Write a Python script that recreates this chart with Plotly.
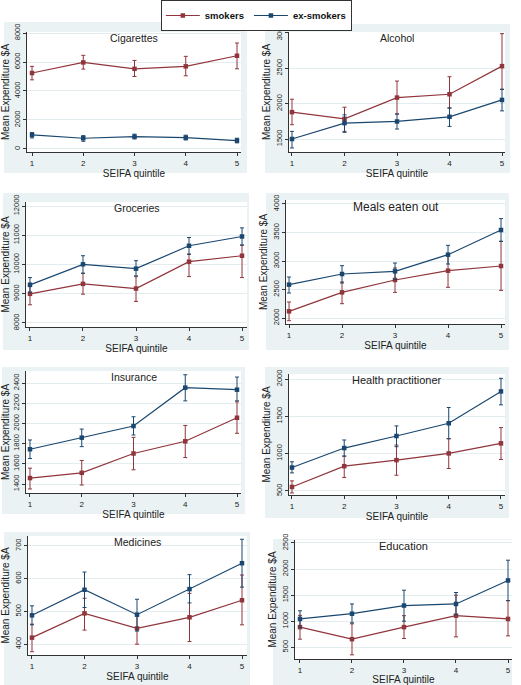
import plotly.graph_objects as go

quintiles = [1, 2, 3, 4, 5]
panel_titles = ["Cigarettes", "Alcohol", "Groceries", "Meals eaten out",
                "Insurance", "Health practitioner", "Medicines", "Education"]

# mean, lower CI, upper CI  (smokers / ex-smokers)
cig_smk = [5240, 5970, 5530, 5700, 6430]
cig_smk_lo = [4770, 5510, 5000, 5050, 5530]
cig_smk_hi = [5700, 6460, 6110, 6390, 7310]
cig_ex = [970, 740, 850, 780, 580]
cig_ex_lo = [760, 530, 690, 620, 420]
cig_ex_hi = [1130, 920, 1020, 950, 740]

alc_smk = [1880, 1786, 2086, 2133, 2531]
alc_smk_lo = [1702, 1608, 1856, 1936, 2203]
alc_smk_hi = [2063, 1950, 2320, 2381, 2991]
alc_ex = [1500, 1725, 1748, 1814, 2053]
alc_ex_lo = [1373, 1594, 1641, 1678, 1898]
alc_ex_hi = [1608, 1842, 1852, 1941, 2203]

gro_smk = [8997, 9337, 9178, 10096, 10300]
gro_smk_lo = [8623, 8986, 8737, 9586, 9552]
gro_smk_hi = [9360, 9700, 9586, 10357, 10663]
gro_ex = [9303, 10006, 9858, 10640, 10958]
gro_ex_lo = [9054, 9700, 9609, 10346, 10663]
gro_ex_hi = [9552, 10300, 10130, 10924, 11252]

mea_smk = [2117, 2450, 2667, 2830, 2912]
mea_smk_lo = [1953, 2251, 2450, 2538, 2485]
mea_smk_hi = [2281, 2632, 2877, 3111, 3345]
mea_ex = [2585, 2772, 2819, 3111, 3544]
mea_ex_lo = [2439, 2614, 2673, 2947, 3345]
mea_ex_hi = [2719, 2918, 2965, 3275, 3743]

ins_smk = [1459, 1511, 1702, 1823, 2056]
ins_smk_lo = [1351, 1390, 1541, 1662, 1902]
ins_smk_hi = [1557, 1633, 1862, 1980, 2213]
ins_ex = [1744, 1859, 1974, 2354, 2334]
ins_ex_lo = [1652, 1770, 1885, 2223, 2223]
ins_ex_hi = [1836, 1944, 2066, 2482, 2459]

hea_smk = [554, 832, 913, 1003, 1138]
hea_smk_lo = [473, 680, 711, 801, 922]
hea_smk_hi = [635, 967, 1115, 1200, 1349]
hea_ex = [814, 1075, 1236, 1407, 1834]
hea_ex_lo = [742, 967, 1093, 1200, 1654]
hea_ex_hi = [891, 1183, 1371, 1618, 2009]

med_smk = [420, 494, 448, 482, 534]
med_smk_lo = [377, 443, 400, 408, 459]
med_smk_hi = [461, 540, 494, 555, 611]
med_ex = [488, 566, 490, 568, 647]
med_ex_lo = [459, 512, 440, 526, 574]
med_ex_hi = [517, 620, 537, 612, 720]

edu_smk = [887, 656, 887, 1106, 1044]
edu_smk_lo = [656, 356, 669, 700, 719]
edu_smk_hi = [1112, 950, 1106, 1500, 1394]
edu_ex = [1044, 1144, 1300, 1331, 1781]
edu_ex_lo = [875, 969, 1000, 1125, 1394]
edu_ex_hi = [1200, 1331, 1594, 1550, 2169]

smk_sets = [(cig_smk, cig_smk_lo, cig_smk_hi), (alc_smk, alc_smk_lo, alc_smk_hi),
            (gro_smk, gro_smk_lo, gro_smk_hi), (mea_smk, mea_smk_lo, mea_smk_hi),
            (ins_smk, ins_smk_lo, ins_smk_hi), (hea_smk, hea_smk_lo, hea_smk_hi),
            (med_smk, med_smk_lo, med_smk_hi), (edu_smk, edu_smk_lo, edu_smk_hi)]
ex_sets = [(cig_ex, cig_ex_lo, cig_ex_hi), (alc_ex, alc_ex_lo, alc_ex_hi),
           (gro_ex, gro_ex_lo, gro_ex_hi), (mea_ex, mea_ex_lo, mea_ex_hi),
           (ins_ex, ins_ex_lo, ins_ex_hi), (hea_ex, hea_ex_lo, hea_ex_hi),
           (med_ex, med_ex_lo, med_ex_hi), (edu_ex, edu_ex_lo, edu_ex_hi)]

# ---- layout (pixels) ----
W, H = 521, 685
# plot areas: left, right, top, bottom
plot_px = [(27, 241, 32, 152), (289, 505, 32, 152),
           (26, 247, 202, 327), (286, 505, 200, 324),
           (26, 241, 371, 493), (289, 505, 374, 495),
           (28, 247, 536, 655), (295, 512, 540, 659)]
# gray panel boxes
panel_px = [(4, 247, 22, 173), (265, 510, 24, 173),
            (3, 249, 193, 350), (266, 509, 193, 350),
            (2, 245, 367, 514), (265, 509, 367, 518),
            (4, 250, 532, 685), (273, 512, 539, 685)]
x_ranges = [(0.902, 5.078), (0.943, 5.057), (0.925, 5.094), (0.943, 5.075),
            (0.923, 5.077), (0.943, 5.077), (0.924, 5.095), (0.904, 5.077)]
y_ranges = [(-210, 8070), (1316, 3014), (7863, 12137), (1895, 4070),
            (1311, 2519), (446, 2067), (367, 730), (276, 2556)]
y_dticks = [2000, 500, 1000, 500, 200, 500, 100, 500]
title_sizes = [10.5, 10.5, 10.5, 12, 10.5, 11, 10.5, 11]

SMK = "#90353b"
EXS = "#1a476f"
PANEL_BG = "#EAF2F3"
GRID = "#E3ECEE"
FONT = "Liberation Sans, Arial, sans-serif"

fig = go.Figure()
layout = dict(width=W, height=H, margin=dict(l=0, r=0, t=0, b=0, autoexpand=False),
              paper_bgcolor="white", plot_bgcolor="white",
              font=dict(family=FONT, color="#222"),
              showlegend=True, shapes=[], annotations=[])

for i in range(8):
    k = "" if i == 0 else str(i + 1)
    xa, ya = "x" + k, "y" + k
    for (vals, lo, hi), color, name in [(smk_sets[i], SMK, "smokers"), (ex_sets[i], EXS, "ex-smokers")]:
        fig.add_trace(go.Scatter(
            x=quintiles, y=vals, mode="lines+markers", name=name,
            legendgroup=name, showlegend=(i == 0),
            line=dict(color=color, width=1.2),
            marker=dict(color=color, size=4.5, symbol="square"),
            error_y=dict(type="data", symmetric=False,
                         array=[h - v for h, v in zip(hi, vals)],
                         arrayminus=[v - l for v, l in zip(vals, lo)],
                         color=color, thickness=1, width=2),
            xaxis=xa, yaxis=ya, cliponaxis=False))
    l, r, t, b = plot_px[i]
    pl, pr, pt, pb = panel_px[i]
    layout["xaxis" + k] = dict(
        domain=[l / W, r / W], range=list(x_ranges[i]), anchor=ya,
        tickvals=quintiles, ticks="outside", ticklen=3, tickwidth=1, tickcolor="#333",
        showline=True, linecolor="#333", linewidth=1, showgrid=False, zeroline=False,
        tickfont=dict(size=8, color="#222"),
        title=dict(text="SEIFA quintile", font=dict(size=10, color="#222"), standoff=0))
    layout["yaxis" + k] = dict(
        domain=[1 - b / H, 1 - t / H], range=list(y_ranges[i]), anchor=xa,
        dtick=y_dticks[i], tick0=0, tickformat="d", ticks="outside", ticklen=3, tickwidth=1,
        tickcolor="#333", showline=True, linecolor="#333", linewidth=1, showgrid=True,
        gridcolor=GRID, gridwidth=1, zeroline=False, tickangle=-90,
        tickfont=dict(size=7.5, color="#222"),
        title=dict(text="Mean Expenditure $A", font=dict(size=10, color="#222"), standoff=2))
    layout["shapes"].append(dict(type="rect", xref="paper", yref="paper",
                                 x0=pl / W, x1=pr / W, y0=1 - pb / H, y1=1 - pt / H,
                                 fillcolor=PANEL_BG, line=dict(width=0), layer="below"))
    layout["shapes"].append(dict(type="rect", xref="paper", yref="paper",
                                 x0=l / W, x1=r / W, y0=1 - b / H, y1=1 - t / H,
                                 fillcolor="white", line=dict(width=0), layer="below"))
    layout["annotations"].append(dict(text=panel_titles[i], xref=xa + " domain", yref=ya + " domain",
                                      x=0.5, y=1, xanchor="center", yanchor="top", yshift=2,
                                      showarrow=False, font=dict(size=title_sizes[i], color="#222")))

layout["legend"] = dict(orientation="h", x=0.492, xanchor="center", y=1.0, yanchor="top",
                        bgcolor="white", bordercolor="#333", borderwidth=1,
                        font=dict(size=9.5, weight="bold", color="#111"),
                        itemwidth=34, tracegroupgap=0)
fig.update_layout(**layout)
fig.write_html("out.html")
